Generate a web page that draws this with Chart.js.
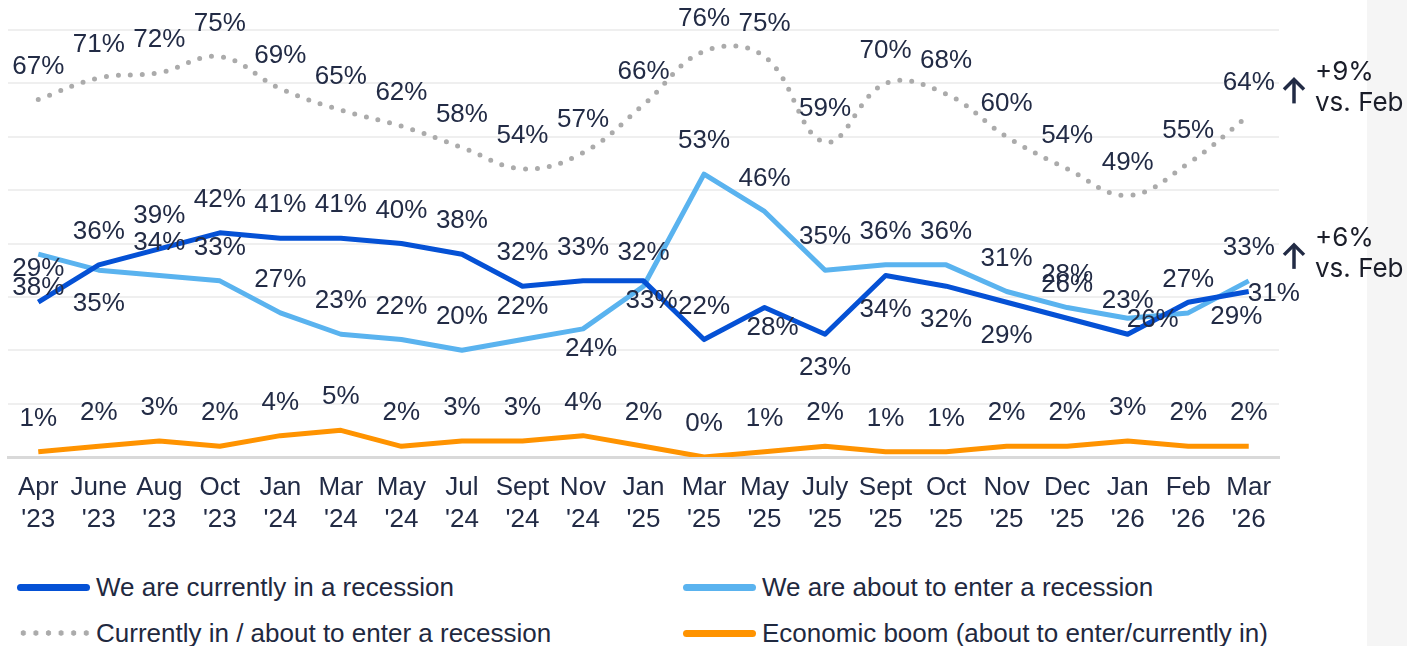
<!DOCTYPE html>
<html>
<head>
<meta charset="utf-8">
<script src="https://cdn.jsdelivr.net/npm/chart.js@4"></script>
<style>
  html, body { margin: 0; padding: 0; background: #fff; }
  body { width: 1407px; height: 646px; position: relative; overflow: hidden; }
  #side { position: absolute; left: 1367px; top: 0; width: 40px; height: 646px; background: #f5f5f5; }
  #chart { position: absolute; left: 0; top: 0; }
  .item { position: absolute; height: 32px; display: flex; align-items: center;
          font-family: 'Liberation Sans', Arial, sans-serif; font-size: 26px; color: #1f2940; white-space: nowrap; }
  .swatch { width: 73px; height: 7px; border-radius: 4px; margin-right: 6px; }
  .dots { width: 76px; height: 6px; margin-right: 3px;
          background: radial-gradient(circle, #ababab 2.4px, transparent 3px) left center / 12.6px 6px repeat-x; }
</style>
</head>
<body>
<div id="side"></div>
<canvas id="chart" width="1407" height="540"></canvas>
<div id="legend"></div>
<script>
// categories
const months = ['Apr', 'June', 'Aug', 'Oct', 'Jan', 'Mar', 'May', 'Jul', 'Sept', 'Nov', 'Jan',
                'Mar', 'May', 'July', 'Sept', 'Oct', 'Nov', 'Dec', 'Jan', 'Feb', 'Mar'];
const years = ["'23", "'23", "'23", "'23", "'24", "'24", "'24", "'24", "'24", "'24", "'25",
               "'25", "'25", "'25", "'25", "'25", "'25", "'25", "'26", "'26", "'26"];

// series values (%)
const currentlyIn = [29, 36, 39, 42, 41, 41, 40, 38, 32, 33, 33, 22, 28, 23, 34, 32, 29, 26, 23, 29, 31];
const aboutToEnter = [38, 35, 34, 33, 27, 23, 22, 20, 22, 24, 32, 53, 46, 35, 36, 36, 31, 28, 26, 27, 33];
const inOrAbout = [67, 71, 72, 75, 69, 65, 62, 58, 54, 57, 66, 76, 75, 59, 70, 68, 60, 54, 49, 55, 64];
const boom = [1, 2, 3, 2, 4, 5, 2, 3, 3, 4, 2, 0, 1, 2, 1, 1, 2, 2, 3, 2, 2];

// label placement: a = above, b = below, c = just below, r = right, br = below right
const currentSides = ['a','a','a','a','a','a','a','a','a','a','c','a','c','b','b','b','b','a','a','br','r'];
const enterSides = ['b','b','a','a','a','a','a','a','a','c','a','a','a','a','a','a','a','a','r','a','a'];

const textColor = '#222b45';
const colors = { current: '#0551d5', enter: '#5ab3ef', total: '#ababab', boom: '#ff9300' };
const legendNames = ['We are currently in a recession', 'We are about to enter a recession',
                     'Currently in / about to enter a recession', 'Economic boom (about to enter/currently in)'];

const valueLabels = {
  id: 'valueLabels',
  afterDatasetsDraw(chart) {
    const ctx = chart.ctx;
    ctx.save();
    ctx.font = "26px 'Liberation Sans', Arial, sans-serif";
    ctx.fillStyle = textColor;
    ctx.textBaseline = 'middle';
    chart.data.datasets.forEach((ds, i) => {
      const meta = chart.getDatasetMeta(i);
      meta.data.forEach((pt, j) => {
        const side = ds.labelSides ? ds.labelSides[j] : 'a';
        let x = pt.x, y = pt.y, align = 'center';
        if (side === 'a') y -= 33;
        else if (side === 'b') y += 34;
        else if (side === 'c') { x += 8; y += 20; }
        else if (side === 'r') { align = 'left'; x -= 1; y += 2; }
        else if (side === 'br') { align = 'left'; x += 22; y += 15; }
        ctx.textAlign = align;
        ctx.fillText(ds.data[j] + '%', x, y);
      });
    });
    ctx.restore();
  }
};

const deltaNotes = {
  id: 'deltaNotes',
  afterDraw(chart) {
    const ctx = chart.ctx;
    const right = chart.chartArea.right;
    ctx.save();
    [2, 1].forEach(i => {
      const ds = chart.data.datasets[i];
      const meta = chart.getDatasetMeta(i);
      const n = ds.data.length;
      const diff = ds.data[n - 1] - ds.data[n - 2];
      const y = meta.data[n - 1].y - 25;
      const ax = right + 15;
      ctx.strokeStyle = textColor;
      ctx.lineWidth = 3.5;
      ctx.beginPath();
      ctx.moveTo(ax, y + 13);
      ctx.lineTo(ax, y - 11);
      ctx.stroke();
      ctx.beginPath();
      ctx.moveTo(ax - 10, y - 1);
      ctx.lineTo(ax, y - 11);
      ctx.lineTo(ax + 10, y - 1);
      ctx.stroke();
      ctx.fillStyle = '#1a1d29';
      ctx.font = '26px Inter, sans-serif';
      ctx.textAlign = 'left';
      ctx.textBaseline = 'middle';
      ctx.fillText((diff >= 0 ? '+' : '') + diff + '%', right + 36, y - 18);
      ctx.fillText('vs. ' + months[n - 2], right + 36, y + 13);
    });
    ctx.restore();
  }
};

new Chart(document.getElementById('chart'), {
  type: 'line',
  data: {
    labels: months.map((m, i) => [m, years[i]]),
    datasets: [
      { label: legendNames[0], data: currentlyIn, borderColor: colors.current, borderWidth: 5,
        tension: 0, labelSides: currentSides },
      { label: legendNames[1], data: aboutToEnter, borderColor: colors.enter, borderWidth: 5,
        tension: 0, labelSides: enterSides },
      { label: legendNames[2], data: inOrAbout, borderColor: colors.total, borderWidth: 5,
        borderDash: [0, 12], borderCapStyle: 'round', tension: 0.4 },
      { label: legendNames[3], data: boom, borderColor: colors.boom, borderWidth: 5, tension: 0 }
    ]
  },
  options: {
    responsive: false,
    animation: false,
    devicePixelRatio: 1,
    layout: { padding: { top: 30, left: 8, right: 128, bottom: 0 } },
    elements: { point: { radius: 0 }, line: { borderJoinStyle: 'round' } },
    plugins: { legend: { display: false }, tooltip: { enabled: false } },
    scales: {
      x: {
        offset: true,
        grid: { display: false, drawTicks: false },
        border: { display: true, color: '#d9d9d9', width: 3 },
        ticks: {
          color: textColor, padding: 15, maxRotation: 0, autoSkip: false,
          font: { family: "'Liberation Sans', Arial, sans-serif", size: 26, lineHeight: 1.23 }
        },
        afterFit(scale) { scale.height = 83; }
      },
      y: {
        min: 0, max: 80,
        ticks: { display: false, stepSize: 10 },
        border: { display: false },
        grid: {
          drawTicks: false,
          color: c => c.tick.value === 0 ? '#d9d9d9' : '#efefef',
          lineWidth: c => c.tick.value === 0 ? 3 : 2
        }
      }
    }
  },
  plugins: [valueLabels, deltaNotes]
});

// legend in two columns
const legend = document.getElementById('legend');
const legendSpots = [[17, 571], [683, 571], [17, 617], [683, 617]];
const legendColors = [colors.current, colors.enter, null, colors.boom];
legendNames.forEach((name, i) => {
  const item = document.createElement('div');
  item.className = 'item';
  item.style.left = legendSpots[i][0] + 'px';
  item.style.top = legendSpots[i][1] + 'px';
  const sw = document.createElement('div');
  if (legendColors[i]) {
    sw.className = 'swatch';
    sw.style.background = legendColors[i];
  } else {
    sw.className = 'dots';
  }
  item.appendChild(sw);
  item.appendChild(document.createTextNode(name));
  legend.appendChild(item);
});
</script>
</body>
</html>
